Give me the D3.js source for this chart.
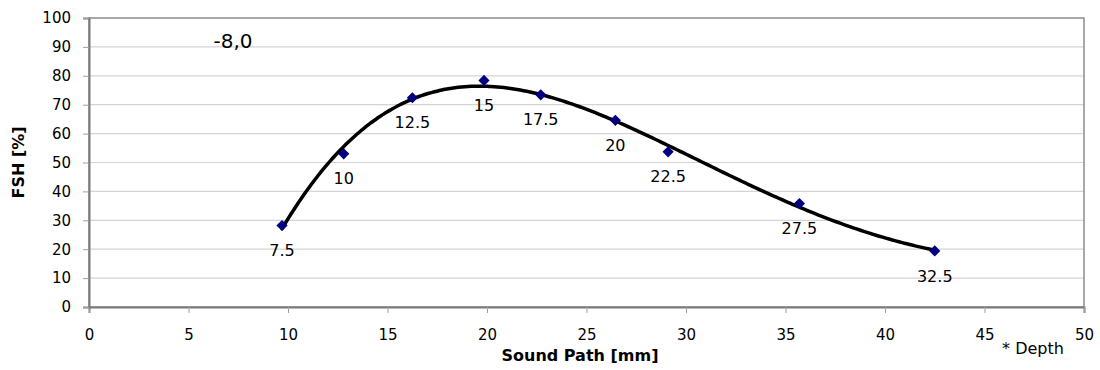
<!DOCTYPE html>
<html>
<head>
<meta charset="utf-8">
<script src="https://cdn.jsdelivr.net/npm/d3@7"></script>
<style>
  body { margin: 0; background: #fff; }
  text { font-family: 'DejaVu Sans', Verdana, sans-serif; fill: #000; }
</style>
</head>
<body>
<div id="chart"></div>
<script>
// values
const depths = ['7.5', '10', '12.5', '15', '17.5', '20', '22.5', '27.5', '32.5']
const soundPath = [9.7, 12.8, 16.25, 19.85, 22.7, 26.45, 29.1, 35.7, 42.5]
const fsh = [28.2, 53.0, 72.4, 78.4, 73.4, 64.6, 53.7, 35.8, 19.4]
const xTicks = [0, 5, 10, 15, 20, 25, 30, 35, 40, 45, 50]
const yTicks = [0, 10, 20, 30, 40, 50, 60, 70, 80, 90, 100]
const title = '-8,0'

let width = 1100
let height = 370
let margin = { left: 89, right: 16, top: 18, bottom: 63 }

let points = soundPath.map((x, i) => ({ x: x, y: fsh[i], label: depths[i] }))

/* polynomial trend line (least squares, like the spreadsheet trendline) */
function polyFit(xs, ys, order) {
  let n = order + 1
  let A = d3.range(n).map(() => d3.range(n + 1).map(() => 0))
  xs.forEach((x, k) => {
    for (let i = 0; i < n; i++) {
      for (let j = 0; j < n; j++) A[i][j] += Math.pow(x, i + j)
      A[i][n] += ys[k] * Math.pow(x, i)
    }
  })
  for (let c = 0; c < n; c++) {
    let p = c
    for (let r = c + 1; r < n; r++) if (Math.abs(A[r][c]) > Math.abs(A[p][c])) p = r
    ;[A[c], A[p]] = [A[p], A[c]]
    for (let r = 0; r < n; r++) {
      if (r === c) continue
      let f = A[r][c] / A[c][c]
      for (let k = c; k <= n; k++) A[r][k] -= f * A[c][k]
    }
  }
  return d3.range(n).map(i => A[i][n] / A[i][i])
}
let coef = polyFit(soundPath, fsh, 4)
let trend = x => coef.reduce((s, c, i) => s + c * Math.pow(x, i), 0)
let xExtent = d3.extent(soundPath)
let trendPts = d3.range(xExtent[0], xExtent[1] + 0.001, (xExtent[1] - xExtent[0]) / 200)
  .map(x => ({ x: x, y: trend(x) }))

/* Scale */
let xScale = d3.scaleLinear().domain([0, 50]).range([margin.left, width - margin.right])
let yScale = d3.scaleLinear().domain([0, 100]).range([height - margin.bottom, margin.top])

let svg = d3.select('#chart').append('svg')
  .attr('width', width)
  .attr('height', height)

/* grid */
svg.append('g')
  .selectAll('line')
  .data(yTicks.slice(1, -1))
  .enter()
  .append('line')
  .attr('x1', xScale(0))
  .attr('x2', xScale(50))
  .attr('y1', d => yScale(d))
  .attr('y2', d => yScale(d))
  .attr('stroke', '#d4d4d4')
  .attr('stroke-width', 1.2)

/* plot frame */
svg.append('rect')
  .attr('x', xScale(0))
  .attr('y', yScale(100))
  .attr('width', xScale(50) - xScale(0))
  .attr('height', yScale(0) - yScale(100))
  .attr('fill', 'none')
  .attr('stroke', '#8c8c8c')
  .attr('stroke-width', 1.5)

/* axes */
let xAxis = d3.axisBottom(xScale).tickValues(xTicks).tickSize(6).tickPadding(16).tickFormat(d3.format('d'))
let yAxis = d3.axisLeft(yScale).tickValues(yTicks).tickSize(6).tickPadding(12).tickFormat(d3.format('d'))

let gx = svg.append('g')
  .attr('transform', `translate(0, ${yScale(0)})`)
  .call(xAxis)
let gy = svg.append('g')
  .attr('transform', `translate(${xScale(0)}, 0)`)
  .call(yAxis)

;[gx, gy].forEach(g => {
  g.attr('font-size', 15).attr('font-family', "'DejaVu Sans', Verdana, sans-serif")
  g.select('.domain').attr('stroke', '#7a7a7a').attr('stroke-width', 2)
  g.selectAll('.tick line').attr('stroke', '#a0a0a0')
  g.selectAll('.tick text').attr('fill', '#000')
})

/* trend line */
let line = d3.line()
  .x(d => xScale(d.x))
  .y(d => yScale(d.y))
  .curve(d3.curveMonotoneX)

svg.append('path')
  .datum(trendPts)
  .attr('d', line)
  .attr('fill', 'none')
  .attr('stroke', '#000')
  .attr('stroke-width', 3.5)
  .attr('stroke-linecap', 'round')

/* markers */
let diamond = d3.symbol().type(d3.symbolDiamond2).size(80)
svg.append('g')
  .selectAll('path')
  .data(points)
  .enter()
  .append('path')
  .attr('d', diamond)
  .attr('transform', d => `translate(${xScale(d.x)}, ${yScale(d.y)})`)
  .attr('fill', '#000080')

/* point labels */
svg.append('g')
  .selectAll('text')
  .data(points)
  .enter()
  .append('text')
  .attr('x', d => xScale(d.x))
  .attr('y', d => yScale(d.y) + 25)
  .attr('dy', '0.35em')
  .attr('text-anchor', 'middle')
  .style('font-size', '16px')
  .text(d => d.label)

/* title inside plot */
svg.append('text')
  .attr('x', 233)
  .attr('y', 41)
  .attr('dy', '0.35em')
  .attr('text-anchor', 'middle')
  .style('font-size', '20px')
  .text(title)

/* axis titles */
svg.append('text')
  .attr('x', 580)
  .attr('y', 355)
  .attr('dy', '0.35em')
  .attr('text-anchor', 'middle')
  .style('font-size', '16px')
  .style('font-weight', 'bold')
  .text('Sound Path [mm]')

svg.append('text')
  .attr('transform', `translate(18, ${(yScale(0) + yScale(100)) / 2}) rotate(-90)`)
  .attr('dy', '0.35em')
  .attr('text-anchor', 'middle')
  .style('font-size', '16px')
  .style('font-weight', 'bold')
  .text('FSH [%]')

svg.append('text')
  .attr('x', 1033)
  .attr('y', 348)
  .attr('dy', '0.35em')
  .attr('text-anchor', 'middle')
  .style('font-size', '16px')
  .text('* Depth')
</script>
</body>
</html>
